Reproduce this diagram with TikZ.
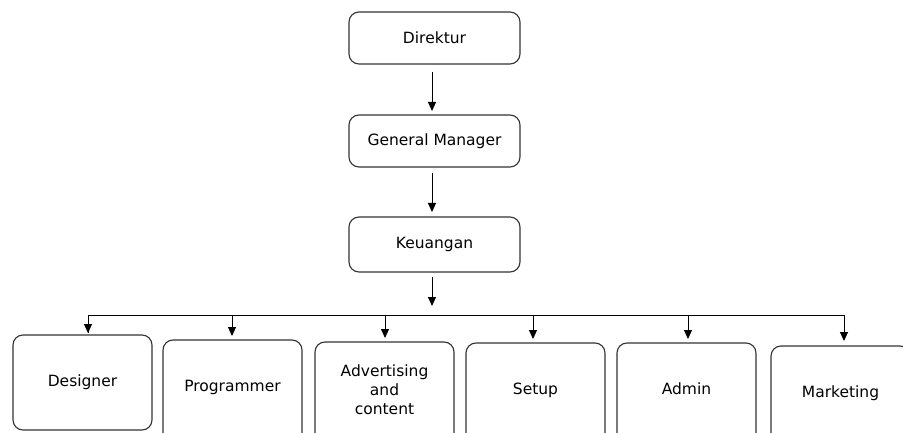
\documentclass[tikz,border=0pt]{standalone}
\usepackage{fontspec}
\setmainfont{DejaVu Sans}
\usetikzlibrary{arrows.meta}
\begin{document}
\begin{tikzpicture}[x=1pt,y=-1pt,
  box/.style={draw=black!80, line width=1.1pt, rounded corners=10pt},
  lbl/.style={font=\fontsize{15.5}{19}\selectfont, align=center},
  arr/.style={line width=1pt, -{Triangle[width=8pt,length=9pt]}},
  ln/.style={line width=1pt}]
\useasboundingbox (0,0) rectangle (903,433);
\begin{scope}
\clip (0,0) rectangle (903,433);
% top column
\draw[box] (349,12) rectangle (520,64);
\node[lbl] (dir) at (434.5,38) {Direktur};
\draw[box] (349,115) rectangle (520,167);
\node[lbl] (gm) at (434.5,141) {General Manager};
\draw[box] (349,217) rectangle (520,272);
\node[lbl] (keu) at (434.5,244) {Keuangan};
% bottom boxes
\draw[box] (13,335) rectangle (152,430);
\node[lbl] (des) at (82.5,382) {Designer};
\draw[box] (163,340) rectangle (302,450);
\node[lbl] (prog) at (232.5,387) {Programmer};
\draw[box] (315,342) rectangle (454,452);
\node[lbl] (adv) at (384.5,390) {Advertising\\and\\content};
\draw[box] (466,343) rectangle (605,453);
\node[lbl] (set) at (535.5,390) {Setup};
\draw[box] (617,343) rectangle (756,453);
\node[lbl] (adm) at (686.5,389) {Admin};
\draw[box] (771,346) rectangle (910,456);
\node[lbl] (mkt) at (840.5,393) {Marketing};
\end{scope}
% connectors
\coordinate (a1) at (432,72);
\coordinate (a1e) at (432,111);
\coordinate (a2) at (432,173);
\coordinate (a2e) at (432,212);
\coordinate (a3) at (432,277);
\coordinate (a3e) at (432,306);
\draw[arr] (a1) -- (a1e);
\draw[arr] (a2) -- (a2e);
\draw[arr] (a3) -- (a3e);
\coordinate (hl) at (88,315);
\coordinate (hr) at (844,315);
\draw[ln] (88,333) -- (hl) -- (hr) -- (844,335);
\foreach \x/\t in {88/333,232/336,385/338,533/339,688/339,844/341}{
  \draw[arr] (\x,315) -- (\x,\t);
}
\end{tikzpicture}
\end{document}
